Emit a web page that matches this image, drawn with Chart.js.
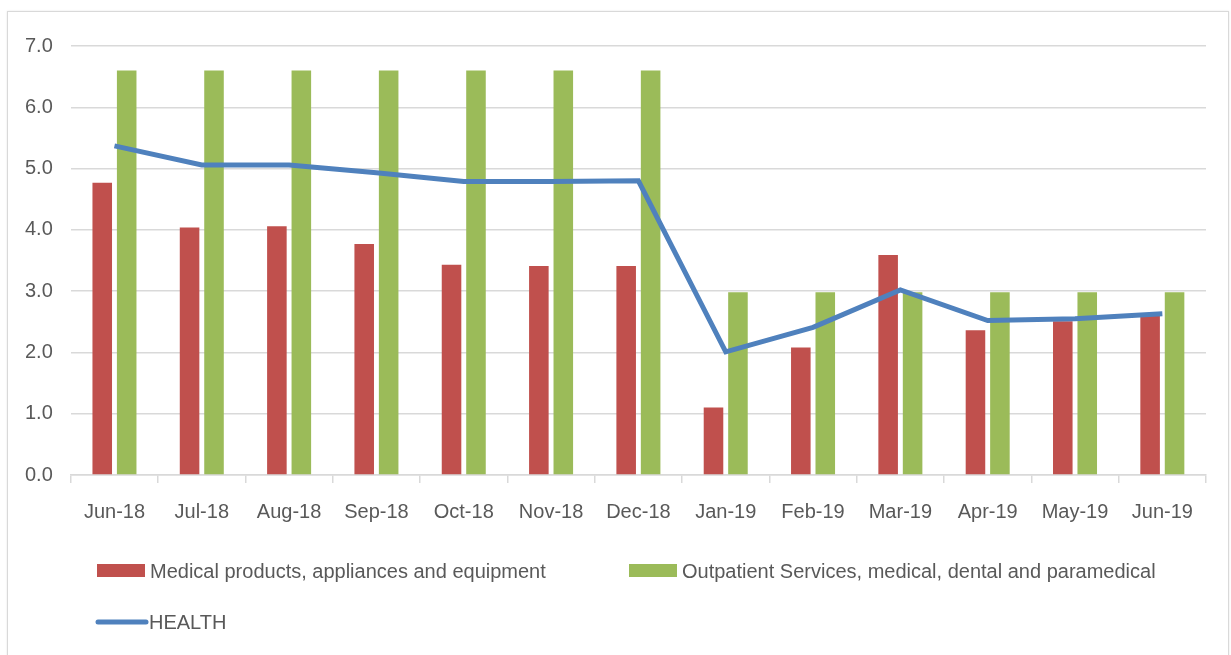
<!DOCTYPE html>
<html>
<head>
<meta charset="utf-8">
<script src="https://cdn.jsdelivr.net/npm/chart.js@4"></script>
<style>
  html, body { margin: 0; padding: 0; background: #fff; overflow: hidden; }
  #frame { position: absolute; left: 7px; top: 11px; width: 1220px; height: 660px; border: 1px solid #d9d9d9; box-shadow: 0 0 2px #e6e6e6; }
  #wrap { position: absolute; left: 0; top: 0; width: 1231px; height: 655px; }
</style>
</head>
<body>
<div id="frame"></div>
<div id="wrap"><canvas id="healthChart" width="1231" height="655"></canvas></div>
<script>
const months = ['Jun-18', 'Jul-18', 'Aug-18', 'Sep-18', 'Oct-18', 'Nov-18', 'Dec-18',
                'Jan-19', 'Feb-19', 'Mar-19', 'Apr-19', 'May-19', 'Jun-19'];
const medicalProducts = [4.77, 4.04, 4.06, 3.77, 3.43, 3.41, 3.41, 1.10, 2.08, 3.59, 2.36, 2.51, 2.60];
const outpatient = [6.6, 6.6, 6.6, 6.6, 6.6, 6.6, 6.6, 2.98, 2.98, 2.98, 2.98, 2.98, 2.98];
const health = [5.37, 5.06, 5.06, 4.93, 4.79, 4.79, 4.80, 2.01, 2.41, 3.02, 2.52, 2.55, 2.63];
const yTicks = [0, 1, 2, 3, 4, 5, 6, 7];

const textColor = '#595959';
const fontFamily = '"Liberation Sans", Arial, sans-serif';

// legend drawn by hand so the swatches sit where Excel put them
const bottomLegend = {
    id: 'bottomLegend',
    afterDraw(chart) {
        const ctx = chart.ctx;
        const ds = chart.data.datasets;
        const items = [
            { ds: ds[1], x: 97, y: 571, kind: 'box' },
            { ds: ds[2], x: 629, y: 571, kind: 'box' },
            { ds: ds[0], x: 96, y: 622, kind: 'line' }
        ];
        ctx.save();
        ctx.font = '20px ' + fontFamily;
        ctx.textBaseline = 'middle';
        items.forEach(it => {
            if (it.kind === 'box') {
                ctx.fillStyle = it.ds.backgroundColor;
                ctx.fillRect(it.x, it.y - 7, 48, 13);
            } else {
                ctx.strokeStyle = it.ds.borderColor;
                ctx.lineWidth = 5;
                ctx.lineCap = 'round';
                ctx.beginPath();
                ctx.moveTo(it.x + 2, it.y);
                ctx.lineTo(it.x + 50, it.y);
                ctx.stroke();
            }
            ctx.fillStyle = textColor;
            ctx.fillText(it.ds.label, it.x + 53, it.y + 1);
        });
        ctx.restore();
    }
};

const ctx = document.getElementById('healthChart').getContext('2d');
new Chart(ctx, {
    data: {
        labels: months,
        datasets: [{
            type: 'line',
            label: 'HEALTH',
            data: health,
            borderColor: '#4F81BD',
            backgroundColor: '#4F81BD',
            borderWidth: 5,
            pointRadius: 0,
            tension: 0,
            order: 0
        }, {
            type: 'bar',
            label: 'Medical products, appliances and equipment',
            data: medicalProducts,
            backgroundColor: '#C0504D',
            order: 1
        }, {
            type: 'bar',
            label: 'Outpatient Services, medical, dental and paramedical',
            data: outpatient,
            backgroundColor: '#9BBB59',
            order: 1
        }]
    },
    options: {
        responsive: false,
        animation: false,
        layout: {
            padding: { left: 7, right: 25, top: 46, bottom: 114 }
        },
        datasets: {
            bar: { categoryPercentage: 0.56, barPercentage: 0.8 }
        },
        plugins: {
            legend: { display: false },
            tooltip: { enabled: false }
        },
        scales: {
            x: {
                grid: {
                    drawOnChartArea: false,
                    drawTicks: true,
                    tickLength: 8,
                    color: '#d9d9d9',
                    lineWidth: 1.5
                },
                border: { color: '#d9d9d9', width: 1.5 },
                ticks: {
                    color: textColor,
                    font: { family: fontFamily, size: 20 },
                    padding: 17,
                    maxRotation: 0,
                    autoSkip: false
                }
            },
            y: {
                min: 0,
                max: 7,
                afterBuildTicks: axis => { axis.ticks = yTicks.map(v => ({ value: v })); },
                grid: {
                    color: '#d9d9d9',
                    lineWidth: 1.5,
                    drawTicks: false
                },
                border: { display: false },
                ticks: {
                    color: textColor,
                    font: { family: fontFamily, size: 20 },
                    padding: 18,
                    callback: v => v.toFixed(1)
                }
            }
        }
    },
    plugins: [bottomLegend]
});
</script>
</body>
</html>
